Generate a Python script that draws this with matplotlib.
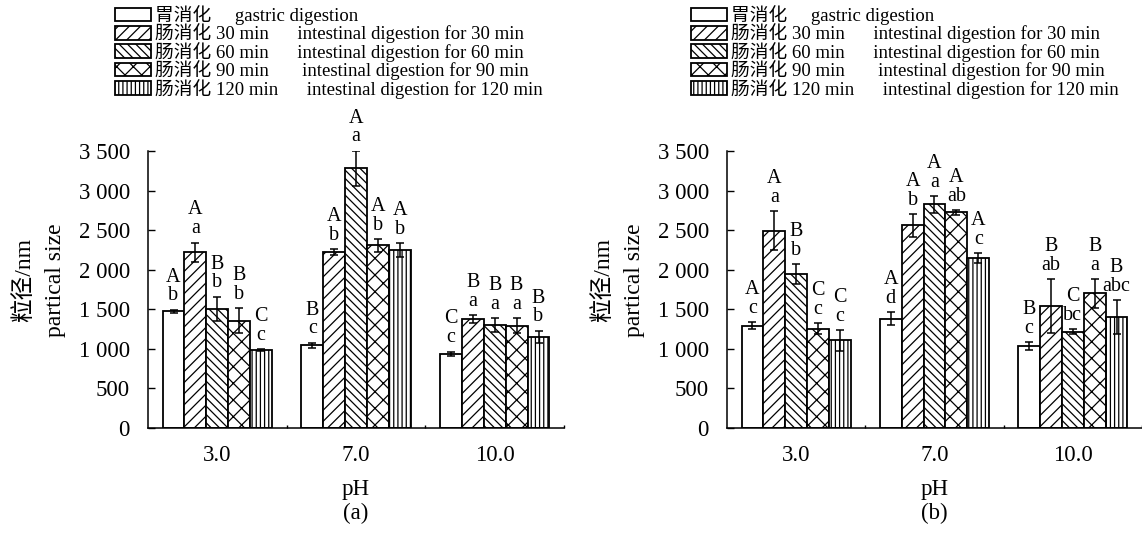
import matplotlib
matplotlib.use("Agg")
import matplotlib.pyplot as plt
from matplotlib.patches import Patch
from matplotlib.ticker import FuncFormatter, FixedLocator
import numpy as np

plt.rcParams['font.family'] = ['Liberation Serif', 'Noto Sans CJK SC']
plt.rcParams['hatch.linewidth'] = 0.9

# categories (pH)
groups = ['3.0', '7.0', '10.0']

# legend labels, one per digestion stage
labels = ['胃消化     gastric digestion',
          '肠消化 30 min      intestinal digestion for 30 min',
          '肠消化 60 min      intestinal digestion for 60 min',
          '肠消化 90 min       intestinal digestion for 90 min',
          '肠消化 120 min      intestinal digestion for 120 min']
hatches = ['', '///', '\\\\\\\\', 'xx', '||||']

# panel (a): mean particle size and error per stage
a_gastric = [1475, 1045, 940]
a_30 = [2220, 2222, 1372]
a_60 = [1506, 3279, 1300]
a_90 = [1355, 2306, 1292]
a_120 = [985, 2247, 1153]
a_gastric_err = [20, 30, 25]
a_30_err = [122, 40, 50]
a_60_err = [150, 223, 84]
a_90_err = [155, 80, 92]
a_120_err = [12, 88, 74]
a_upper = [['A', 'B', 'C'], ['A', 'A', 'B'], ['B', 'A', 'B'], ['B', 'A', 'B'], ['C', 'A', 'B']]
a_lower = [['b', 'c', 'c'], ['a', 'b', 'a'], ['b', 'a', 'a'], ['b', 'b', 'a'], ['c', 'b', 'b']]

# panel (b)
b_gastric = [1292, 1380, 1035]
b_30 = [2491, 2559, 1540]
b_60 = [1940, 2824, 1216]
b_90 = [1254, 2723, 1700]
b_120 = [1107, 2150, 1401]
b_gastric_err = [44, 84, 48]
b_30_err = [246, 143, 337]
b_60_err = [126, 105, 29]
b_90_err = [67, 29, 183]
b_120_err = [128, 61, 210]
b_upper = [['A', 'A', 'B'], ['A', 'A', 'B'], ['B', 'A', 'C'], ['C', 'A', 'B'], ['C', 'A', 'B']]
b_lower = [['c', 'd', 'c'], ['a', 'b', 'ab'], ['b', 'a', 'bc'], ['c', 'ab', 'a'], ['c', 'c', 'abc']]


def draw_panel(ax, means, errs, upper, lower, tag):
    x = np.arange(len(groups))
    width = 0.158
    for i in range(len(means)):
        pos = x + (i - 2) * width
        ax.bar(pos, means[i], width, yerr=errs[i], facecolor='white',
               edgecolor='black', linewidth=1.3, hatch=hatches[i],
               error_kw=dict(ecolor='black', elinewidth=1.1, capsize=3.2, capthick=1.1))
        for j in range(len(groups)):
            top = means[i][j] + errs[i][j]
            # upper-case letter stacked over lower-case letter
            ax.annotate(upper[i][j] + '\n' + lower[i][j], (pos[j], top),
                        xytext=(0, 3.2), textcoords='offset points',
                        ha='center', va='bottom', fontsize=14.5,
                        linespacing=0.98, multialignment='center')

    ax.set_xlim(-0.5, 2.5)
    ax.set_ylim(0, 3500)
    ax.set_yticks(np.arange(0, 3501, 500))
    ax.yaxis.set_major_formatter(FuncFormatter(lambda v, p: f"{int(v):,}".replace(",", " ")))
    ax.set_xticks(x)
    ax.set_xticklabels(groups)
    ax.xaxis.set_minor_locator(FixedLocator([0.5, 1.5, 2.5]))
    ax.tick_params(axis='y', direction='in', length=5, width=1, pad=13, labelsize=16.5)
    ax.tick_params(axis='x', which='major', length=0, pad=12, labelsize=16.5)
    ax.tick_params(axis='x', which='minor', direction='in', length=2.5, width=1)
    for s in ['top', 'right']:
        ax.spines[s].set_visible(False)
    for s in ['left', 'bottom']:
        ax.spines[s].set_linewidth(1.1)

    ax.set_ylabel('粒径/nm\npartical size', fontsize=17, linespacing=1.6)
    ax.yaxis.set_label_coords(-0.198, 0.534)
    ax.set_xlabel('pH\n(' + tag + ')', fontsize=16.5, linespacing=1.2)
    ax.xaxis.set_label_coords(0.5, -0.184)
    ax.xaxis.label.set_va('top')


fig = plt.figure(figsize=(11.42, 5.36), dpi=100)
ax1 = fig.add_axes([0.1296, 0.2015, 0.3643, 0.5168])
ax2 = fig.add_axes([0.6366, 0.2015, 0.3634, 0.5168])

draw_panel(ax1, [a_gastric, a_30, a_60, a_90, a_120],
           [a_gastric_err, a_30_err, a_60_err, a_90_err, a_120_err],
           a_upper, a_lower, 'a')
draw_panel(ax2, [b_gastric, b_30, b_60, b_90, b_120],
           [b_gastric_err, b_30_err, b_60_err, b_90_err, b_120_err],
           b_upper, b_lower, 'b')

handles = [Patch(facecolor='white', edgecolor='black', hatch=h, linewidth=1.3) for h in hatches]
for left_px in [115, 691]:
    fig.legend(handles, labels, loc='upper left',
               bbox_to_anchor=(left_px / 1142, 1 - 5 / 536),
               frameon=False, fontsize=13.5, borderpad=0, borderaxespad=0,
               handlelength=1.92, handleheight=0.75, handletextpad=0.2,
               labelspacing=-0.08)

fig.savefig('out.png', dpi=100)
